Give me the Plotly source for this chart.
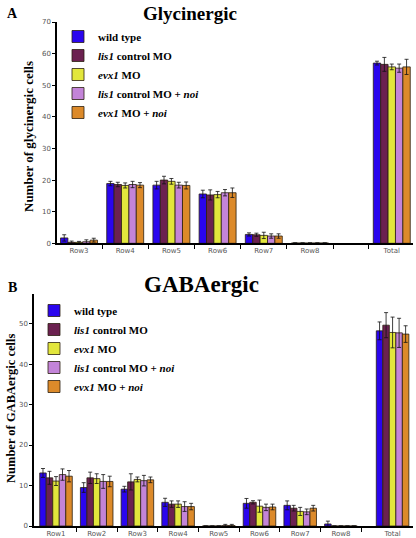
import plotly.graph_objects as go

W, H = 416, 538

series_names = [
    "<b>wild type</b>",
    "<b><i>lis1</i> control MO</b>",
    "<b><i>evx1</i> MO</b>",
    "<b><i>lis1</i> control MO + <i>noi</i></b>",
    "<b><i>evx1</i> MO + <i>noi</i></b>",
]
series_colors = ["#2a05ee", "#6b2150", "#e2e63c", "#c384d8", "#dc8a2a"]

# ---- Panel A: Glycinergic ----
glyc_categories = ["Row3", "Row4", "Row5", "Row6", "Row7", "Row8", "Total"]
glyc_wild = [1.7, 18.9, 18.4, 15.6, 2.8, 0.1, 57.0]
glyc_lis1 = [0.3, 18.6, 20.0, 15.3, 2.7, 0.1, 56.6]
glyc_evx1 = [0.3, 18.3, 19.6, 15.4, 2.5, 0.1, 55.8]
glyc_lis1_noi = [0.5, 18.6, 18.4, 16.0, 2.3, 0.1, 55.4]
glyc_evx1_noi = [1.0, 18.4, 18.3, 16.0, 2.3, 0.1, 55.8]
glyc_wild_err = [1.0, 0.7, 1.2, 1.2, 0.5, 0.0, 0.6]
glyc_lis1_err = [0.4, 0.7, 1.2, 1.6, 0.5, 0.0, 2.2]
glyc_evx1_err = [0.3, 0.8, 0.9, 1.0, 1.0, 0.0, 0.9]
glyc_lis1_noi_err = [0.6, 1.0, 0.9, 1.0, 0.7, 0.0, 1.3]
glyc_evx1_noi_err = [0.6, 0.8, 1.1, 1.5, 0.7, 0.0, 2.4]

# ---- Panel B: GABAergic ----
gaba_categories = ["Row1", "Row2", "Row3", "Row4", "Row5", "Row6", "Row7", "Row8", "Total"]
gaba_wild = [13.1, 9.5, 9.1, 5.85, 0.0, 5.6, 5.1, 0.5, 48.2]
gaba_lis1 = [11.9, 11.9, 10.9, 5.4, 0.0, 5.85, 4.4, 0.0, 49.6]
gaba_evx1 = [11.1, 11.7, 11.5, 5.4, 0.0, 4.9, 3.6, 0.0, 47.8]
gaba_lis1_noi = [12.7, 11.0, 11.2, 4.8, 0.1, 4.6, 3.5, 0.0, 47.7]
gaba_evx1_noi = [12.3, 11.0, 11.4, 4.8, 0.1, 4.7, 4.4, 0.0, 47.4]
gaba_wild_err = [1.1, 1.2, 0.7, 1.0, 0.0, 1.2, 1.1, 0.7, 2.2]
gaba_lis1_err = [1.6, 1.4, 2.0, 0.8, 0.0, 0.4, 0.7, 0.0, 3.1]
gaba_evx1_err = [1.1, 1.2, 0.6, 0.8, 0.0, 1.5, 1.0, 0.0, 3.8]
gaba_lis1_noi_err = [1.4, 1.7, 1.3, 1.2, 0.3, 0.8, 0.7, 0.0, 3.6]
gaba_evx1_noi_err = [1.4, 1.3, 0.7, 0.8, 0.3, 0.7, 0.7, 0.0, 2.05]


def px(x):
    return x / W


def py(y):
    return 1 - y / H


def positions(cats, total_gap):
    n = len(cats) - 1
    return list(range(n)) + [n - 1 + total_gap]


glyc_x = positions(glyc_categories, 1.77)
gaba_x = positions(gaba_categories, 1.27)

fig = go.Figure()

glyc_vals = [glyc_wild, glyc_lis1, glyc_evx1, glyc_lis1_noi, glyc_evx1_noi]
glyc_errs = [glyc_wild_err, glyc_lis1_err, glyc_evx1_err, glyc_lis1_noi_err, glyc_evx1_noi_err]
gaba_vals = [gaba_wild, gaba_lis1, gaba_evx1, gaba_lis1_noi, gaba_evx1_noi]
gaba_errs = [gaba_wild_err, gaba_lis1_err, gaba_evx1_err, gaba_lis1_noi_err, gaba_evx1_noi_err]

for i in range(5):
    fig.add_trace(go.Bar(
        x=glyc_x, y=glyc_vals[i], name=series_names[i],
        marker=dict(color=series_colors[i], line=dict(color="#2b2010", width=0.8)),
        error_y=dict(type="data", array=glyc_errs[i], color="#111", thickness=0.8, width=2),
        xaxis="x", yaxis="y", legend="legend", offsetgroup=str(i),
    ))
for i in range(5):
    fig.add_trace(go.Bar(
        x=gaba_x, y=gaba_vals[i], name=series_names[i],
        marker=dict(color=series_colors[i], line=dict(color="#2b2010", width=0.8)),
        error_y=dict(type="data", array=gaba_errs[i], color="#111", thickness=0.8, width=2),
        xaxis="x2", yaxis="y2", legend="legend2", offsetgroup=str(i),
    ))

tickfont = dict(family="DejaVu Sans", size=7, color="#555")
axis_common = dict(showline=True, linecolor="black", linewidth=1.5, showgrid=False,
                   zeroline=False, tickfont=tickfont, automargin=False)

# top panel: axis from 57px to 413px, Row3 center 79px, spacing 46.2px
top_left, top_right, top_c0, top_sp = 57, 413, 79, 46.2
bot_left, bot_right, bot_c0, bot_sp = 34, 413, 56, 40.7

fig.update_layout(
    width=W, height=H, margin=dict(l=0, r=0, t=0, b=0, autoexpand=False),
    paper_bgcolor="white", plot_bgcolor="white",
    barmode="group", bargap=0.2, bargroupgap=0,
    xaxis=dict(domain=[px(top_left), px(top_right)], anchor="y",
               range=[(top_left - top_c0) / top_sp, (top_right - top_c0) / top_sp],
               tickmode="array", tickvals=glyc_x, ticktext=glyc_categories, ticks="",
               minor=dict(tickmode="array", tickvals=[-0.5, 0.5, 1.5, 2.5, 3.5, 4.5, 5.5, 6.26],
                          ticks="outside", ticklen=4, tickcolor="black", tickwidth=1),
               **axis_common),
    yaxis=dict(domain=[py(243.3), py(22)], anchor="x", range=[0, 70], dtick=10,
               ticks="outside", ticklen=3, tickcolor="black", **axis_common),
    xaxis2=dict(domain=[px(bot_left), px(bot_right)], anchor="y2",
                range=[(bot_left - bot_c0) / bot_sp, (bot_right - bot_c0) / bot_sp],
                tickmode="array", tickvals=gaba_x, ticktext=gaba_categories, ticks="",
                minor=dict(tickmode="array", tickvals=[0.5, 1.5, 2.5, 3.5, 4.5, 5.5, 6.5, 7.5],
                           ticks="outside", ticklen=4, tickcolor="black", tickwidth=1),
                **axis_common),
    yaxis2=dict(domain=[py(526), py(294)], anchor="x2", range=[0, 57.3], dtick=10,
                ticks="outside", ticklen=3, tickcolor="black", **axis_common),
    legend=dict(x=px(58), y=py(22), xanchor="left", yanchor="top",
                font=dict(family="Liberation Serif", size=11, color="black"),
                bgcolor="rgba(0,0,0,0)", tracegroupgap=0),
    legend2=dict(x=px(34), y=py(296), xanchor="left", yanchor="top",
                 font=dict(family="Liberation Serif", size=11, color="black"),
                 bgcolor="rgba(0,0,0,0)", tracegroupgap=0),
)

serif = "Liberation Serif"
annotations = [
    dict(text="<b>Glycinergic</b>", x=px(190), y=py(13), font=dict(family=serif, size=19)),
    dict(text="<b>GABAergic</b>", x=px(201), y=py(284), font=dict(family=serif, size=23)),
    dict(text="<b>A</b>", x=px(12), y=py(13), font=dict(family=serif, size=14)),
    dict(text="<b>B</b>", x=px(12), y=py(287), font=dict(family=serif, size=14)),
    dict(text="<b>Number of glycinergic cells</b>", x=px(28), y=py(137), textangle=-90,
         font=dict(family=serif, size=13)),
    dict(text="<b>Number of GABAergic cells</b>", x=px(11), y=py(408), textangle=-90,
         font=dict(family=serif, size=12.5)),
]
for a in annotations:
    a.update(xref="paper", yref="paper", showarrow=False, xanchor="center", yanchor="middle")
    a["font"]["color"] = "black"
fig.update_layout(annotations=annotations)

fig.write_html("out.html", config={"displayModeBar": False},
               post_script="document.body.style.margin='0';")
